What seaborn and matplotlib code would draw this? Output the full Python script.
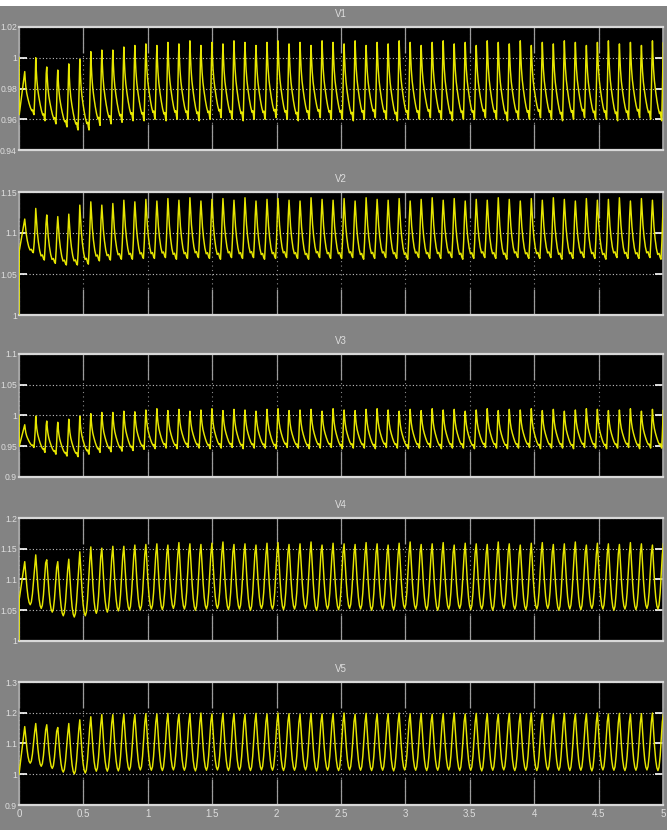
import numpy as np
import pandas as pd
import matplotlib
matplotlib.use("Agg")
import matplotlib.pyplot as plt
import seaborn as sns
from matplotlib.ticker import FuncFormatter
from matplotlib.patches import Rectangle

# ---------------------------------------------------------------------------
# Bus voltages V1..V5 (p.u.) over 0..5 s
# ---------------------------------------------------------------------------
PERIOD = 0.0855        # oscillation period (s)
FIRST_PEAK = 0.0445    # time of the first peak (s)

# one normalised oscillation cycle, phase counted from the peak
SPIKE_PHASE = [0.00, 0.05, 0.10, 0.18, 0.28, 0.40, 0.52, 0.64, 0.72, 0.78, 0.84, 0.90, 0.95]
SPIKE_SHAPE = [1.00, 0.80, 0.65, 0.50, 0.38, 0.26, 0.16, 0.09, 0.11, 0.04, 0.00, 0.35, 0.75]

PULSE_PHASE = [0.00, 0.06, 0.14, 0.24, 0.36, 0.48, 0.60, 0.70, 0.78, 0.86, 0.93]
PULSE_SHAPE = [1.00, 0.80, 0.55, 0.35, 0.18, 0.08, 0.10, 0.03, 0.00, 0.30, 0.70]

WAVE_PHASE = [0.00, 0.10, 0.20, 0.30, 0.40, 0.50, 0.60, 0.70, 0.80, 0.90]
WAVE_SHAPE = [1.00, 0.70, 0.40, 0.18, 0.05, 0.00, 0.06, 0.25, 0.55, 0.85]

# start-up values before the first peak
V1_LEAD_T, V1_LEAD_V = [0.0, 0.002], [1.000, 0.963]
V2_LEAD_T, V2_LEAD_V = [0.0, 0.002], [1.000, 1.078]
V3_LEAD_T, V3_LEAD_V = [0.0, 0.002], [1.000, 0.950]
V4_LEAD_T, V4_LEAD_V = [0.0, 0.002], [1.000, 1.068]
V5_LEAD_T, V5_LEAD_V = [0.0], [1.000]

# peak and following trough of every cycle
V1_PEAK = [0.991, 1.000, 0.994, 0.992, 0.996, 0.999, 1.004, 1.005, 1.005, 1.007, 1.008,
           1.009, 1.008, 1.010, 1.009, 1.011, 1.008, 1.010, 1.009, 1.011, 1.010, 1.008, 1.010,
           1.011, 1.009, 1.010, 1.008, 1.011, 1.010, 1.009, 1.011, 1.008, 1.010, 1.009, 1.011,
           1.010, 1.008, 1.010, 1.011, 1.009, 1.010, 1.008, 1.011, 1.010, 1.009, 1.011, 1.008,
           1.010, 1.009, 1.011, 1.010, 1.008, 1.010, 1.011, 1.009, 1.010, 1.008, 1.011, 1.010]
V1_TROUGH = [0.963, 0.959, 0.957, 0.955, 0.953, 0.953, 0.956, 0.957, 0.958, 0.959, 0.959,
             0.960, 0.959, 0.960, 0.960, 0.959, 0.960, 0.961, 0.960, 0.959, 0.960, 0.960, 0.961,
             0.960, 0.959, 0.960, 0.961, 0.960, 0.960, 0.959, 0.960, 0.961, 0.960, 0.959, 0.960,
             0.960, 0.961, 0.960, 0.959, 0.960, 0.960, 0.961, 0.960, 0.959, 0.960, 0.960, 0.961,
             0.960, 0.959, 0.960, 0.961, 0.960, 0.960, 0.959, 0.960, 0.961, 0.960, 0.959, 0.960]

V2_PEAK = [1.117, 1.130, 1.122, 1.120, 1.123, 1.134, 1.138, 1.134, 1.136, 1.140, 1.138,
           1.141, 1.139, 1.142, 1.140, 1.143, 1.139, 1.141, 1.142, 1.140, 1.143, 1.139, 1.141,
           1.142, 1.140, 1.139, 1.143, 1.141, 1.140, 1.142, 1.139, 1.143, 1.141, 1.140, 1.142,
           1.139, 1.141, 1.143, 1.140, 1.142, 1.139, 1.141, 1.140, 1.143, 1.141, 1.139, 1.142,
           1.140, 1.143, 1.141, 1.139, 1.142, 1.140, 1.141, 1.143, 1.139, 1.142, 1.140, 1.141]
V2_TROUGH = [1.076, 1.067, 1.063, 1.061, 1.061, 1.062, 1.066, 1.067, 1.068, 1.068, 1.069,
             1.069, 1.070, 1.068, 1.069, 1.070, 1.069, 1.068, 1.070, 1.069, 1.070, 1.068, 1.069,
             1.070, 1.069, 1.068, 1.070, 1.069, 1.069, 1.070, 1.068, 1.069, 1.070, 1.069, 1.068,
             1.070, 1.069, 1.069, 1.070, 1.068, 1.069, 1.070, 1.069, 1.068, 1.070, 1.069, 1.069,
             1.070, 1.068, 1.069, 1.070, 1.069, 1.068, 1.070, 1.069, 1.069, 1.070, 1.068, 1.069]

V3_PEAK = [0.985, 0.999, 0.991, 0.989, 0.994, 0.999, 1.003, 1.005, 1.005, 1.007, 1.006,
           1.009, 1.011, 1.008, 1.010, 1.007, 1.009, 1.011, 1.008, 1.010, 1.009, 1.007, 1.010,
           1.011, 1.008, 1.009, 1.010, 1.007, 1.011, 1.009, 1.008, 1.010, 1.011, 1.009, 1.007,
           1.010, 1.008, 1.011, 1.009, 1.010, 1.007, 1.009, 1.011, 1.008, 1.010, 1.009, 1.011,
           1.008, 1.010, 1.007, 1.009, 1.011, 1.010, 1.008, 1.009, 1.011, 1.007, 1.010, 1.009]
V3_TROUGH = [0.948, 0.940, 0.937, 0.934, 0.933, 0.937, 0.940, 0.941, 0.942, 0.943, 0.945,
             0.946, 0.947, 0.946, 0.948, 0.947, 0.946, 0.947, 0.948, 0.946, 0.947, 0.947, 0.946,
             0.948, 0.947, 0.946, 0.947, 0.948, 0.946, 0.947, 0.947, 0.946, 0.948, 0.947, 0.946,
             0.947, 0.948, 0.946, 0.947, 0.947, 0.946, 0.948, 0.947, 0.946, 0.947, 0.948, 0.946,
             0.947, 0.947, 0.946, 0.948, 0.947, 0.946, 0.947, 0.948, 0.946, 0.947, 0.947, 0.946]

V4_PEAK = [1.129, 1.140, 1.132, 1.129, 1.133, 1.145, 1.153, 1.151, 1.154, 1.154, 1.156,
           1.157, 1.158, 1.156, 1.160, 1.158, 1.157, 1.159, 1.161, 1.157, 1.158, 1.156, 1.159,
           1.160, 1.157, 1.158, 1.161, 1.156, 1.159, 1.158, 1.157, 1.160, 1.158, 1.156, 1.159,
           1.161, 1.157, 1.158, 1.160, 1.156, 1.159, 1.158, 1.157, 1.161, 1.158, 1.156, 1.159,
           1.160, 1.157, 1.158, 1.161, 1.156, 1.159, 1.158, 1.157, 1.160, 1.158, 1.156, 1.159]
V4_TROUGH = [1.059, 1.053, 1.047, 1.041, 1.039, 1.041, 1.045, 1.047, 1.049, 1.050, 1.051,
             1.052, 1.051, 1.053, 1.052, 1.050, 1.052, 1.053, 1.051, 1.052, 1.050, 1.053, 1.052,
             1.051, 1.052, 1.053, 1.050, 1.052, 1.051, 1.053, 1.052, 1.050, 1.052, 1.051, 1.053,
             1.052, 1.051, 1.050, 1.052, 1.053, 1.051, 1.052, 1.050, 1.053, 1.052, 1.051, 1.052,
             1.053, 1.050, 1.052, 1.051, 1.053, 1.052, 1.050, 1.052, 1.051, 1.053, 1.052, 1.051]

V5_PEAK = [1.155, 1.165, 1.161, 1.152, 1.165, 1.177, 1.187, 1.194, 1.194, 1.195, 1.194,
           1.197, 1.196, 1.198, 1.195, 1.197, 1.199, 1.196, 1.198, 1.197, 1.195, 1.198, 1.196,
           1.199, 1.197, 1.195, 1.198, 1.196, 1.197, 1.199, 1.195, 1.198, 1.196, 1.197, 1.199,
           1.196, 1.198, 1.195, 1.197, 1.199, 1.196, 1.198, 1.197, 1.195, 1.198, 1.196, 1.199,
           1.197, 1.195, 1.198, 1.196, 1.197, 1.199, 1.196, 1.198, 1.195, 1.197, 1.199, 1.196]
V5_TROUGH = [1.036, 1.026, 1.019, 1.007, 1.001, 1.004, 1.010, 1.010, 1.011, 1.013, 1.014,
             1.013, 1.012, 1.014, 1.013, 1.011, 1.013, 1.014, 1.012, 1.013, 1.012, 1.014, 1.013,
             1.012, 1.013, 1.014, 1.011, 1.013, 1.012, 1.014, 1.013, 1.012, 1.013, 1.011, 1.014,
             1.013, 1.012, 1.013, 1.014, 1.012, 1.013, 1.011, 1.013, 1.014, 1.012, 1.013, 1.012,
             1.014, 1.013, 1.012, 1.013, 1.011, 1.014, 1.013, 1.012, 1.013, 1.014, 1.012, 1.013]

TITLES = ["V1", "V2", "V3", "V4", "V5"]
Y_LIMITS = [(0.94, 1.02), (1.0, 1.15), (0.9, 1.1), (1.0, 1.2), (0.9, 1.3)]
Y_TICKS = [[0.94, 0.96, 0.98, 1.0, 1.02],
           [1.0, 1.05, 1.1, 1.15],
           [0.9, 0.95, 1.0, 1.05, 1.1],
           [1.0, 1.05, 1.1, 1.15, 1.2],
           [0.9, 1.0, 1.1, 1.2, 1.3]]
X_TICKS = [0, 0.5, 1, 1.5, 2, 2.5, 3, 3.5, 4, 4.5, 5]

PANELS = [
    (V1_LEAD_T, V1_LEAD_V, V1_PEAK, V1_TROUGH, SPIKE_PHASE, SPIKE_SHAPE),
    (V2_LEAD_T, V2_LEAD_V, V2_PEAK, V2_TROUGH, PULSE_PHASE, PULSE_SHAPE),
    (V3_LEAD_T, V3_LEAD_V, V3_PEAK, V3_TROUGH, SPIKE_PHASE, SPIKE_SHAPE),
    (V4_LEAD_T, V4_LEAD_V, V4_PEAK, V4_TROUGH, WAVE_PHASE, WAVE_SHAPE),
    (V5_LEAD_T, V5_LEAD_V, V5_PEAK, V5_TROUGH, WAVE_PHASE, WAVE_SHAPE),
]


def build_trace(lead_t, lead_v, peaks, troughs, phase, shape):
    """Assemble the sampled trace from the per-cycle peak/trough levels."""
    t, v = list(lead_t), list(lead_v)
    for k, (pk, tr) in enumerate(zip(peaks, troughs)):
        for ph, s in zip(phase, shape):
            t.append(FIRST_PEAK + (k + ph) * PERIOD)
            v.append(tr + s * (pk - tr))
    return pd.DataFrame({"t": t, "v": v})


BG = "#838383"
FG = "#dedede"
plt.rcParams["font.family"] = ["Liberation Sans", "DejaVu Sans"]
YLABEL_SIZE = 6.2
XLABEL_SIZE = 7.0

fig = plt.figure(figsize=(6.67, 8.30), dpi=100, facecolor=BG)
fig.patches.append(Rectangle((0, 1 - 6 / 830), 1, 6 / 830, transform=fig.transFigure,
                             facecolor="white", edgecolor="none", zorder=0))

# axes placement in pixels: top edge of each panel and common height
left_px, right_px = 19, 663
tops_px = [27, 192, 354, 518, 682]
height_px = 123
W, H = 667, 830

fmt = FuncFormatter(lambda val, pos: f"{val:g}")

for i, (title, ylim, yt, spec) in enumerate(zip(TITLES, Y_LIMITS, Y_TICKS, PANELS)):
    top = tops_px[i]
    ax = fig.add_axes([left_px / W, 1 - (top + height_px) / H,
                       (right_px - left_px) / W, height_px / H])
    ax.set_facecolor("black")
    df = build_trace(*spec)
    sns.lineplot(data=df, x="t", y="v", ax=ax, color="#e6e600", linewidth=1.05,
                 estimator=None, sort=False, errorbar=None, zorder=3)

    ax.set_xlim(0, 5)
    ax.set_ylim(*ylim)
    ax.set_xticks(X_TICKS)
    ax.set_yticks(yt)
    ax.yaxis.set_major_formatter(fmt)
    ax.xaxis.set_major_formatter(fmt)
    ax.set_xlabel("")
    ax.set_ylabel("")

    ax.grid(True, axis="y", color="#c0c0c0", linestyle=(0, (1, 2)), linewidth=0.8, zorder=1)
    ax.grid(True, axis="x", color="#8c8c8c", linestyle=(0, (1, 3)), linewidth=0.8, zorder=1)
    ax.tick_params(axis="x", which="major", direction="in", top=True, bottom=True,
                   length=19, width=0.9, color="#9c9c9c", labelsize=XLABEL_SIZE,
                   labelcolor=FG, pad=3)
    ax.tick_params(axis="y", which="major", direction="in", left=True, right=True,
                   length=6, width=1.2, color="white", labelsize=YLABEL_SIZE,
                   labelcolor=FG, pad=1.5)
    if i < len(TITLES) - 1:
        ax.tick_params(axis="x", labelbottom=False)

    for side in ("top", "bottom"):
        ax.spines[side].set_color("#d8d8d8")
        ax.spines[side].set_linewidth(1.6)
    for side in ("left", "right"):
        ax.spines[side].set_color("#a8a8a8")
        ax.spines[side].set_linewidth(1.2)

    ax.set_title(title, color=FG, fontsize=XLABEL_SIZE, pad=7)

fig.savefig("out.png", dpi=100, facecolor=BG)
